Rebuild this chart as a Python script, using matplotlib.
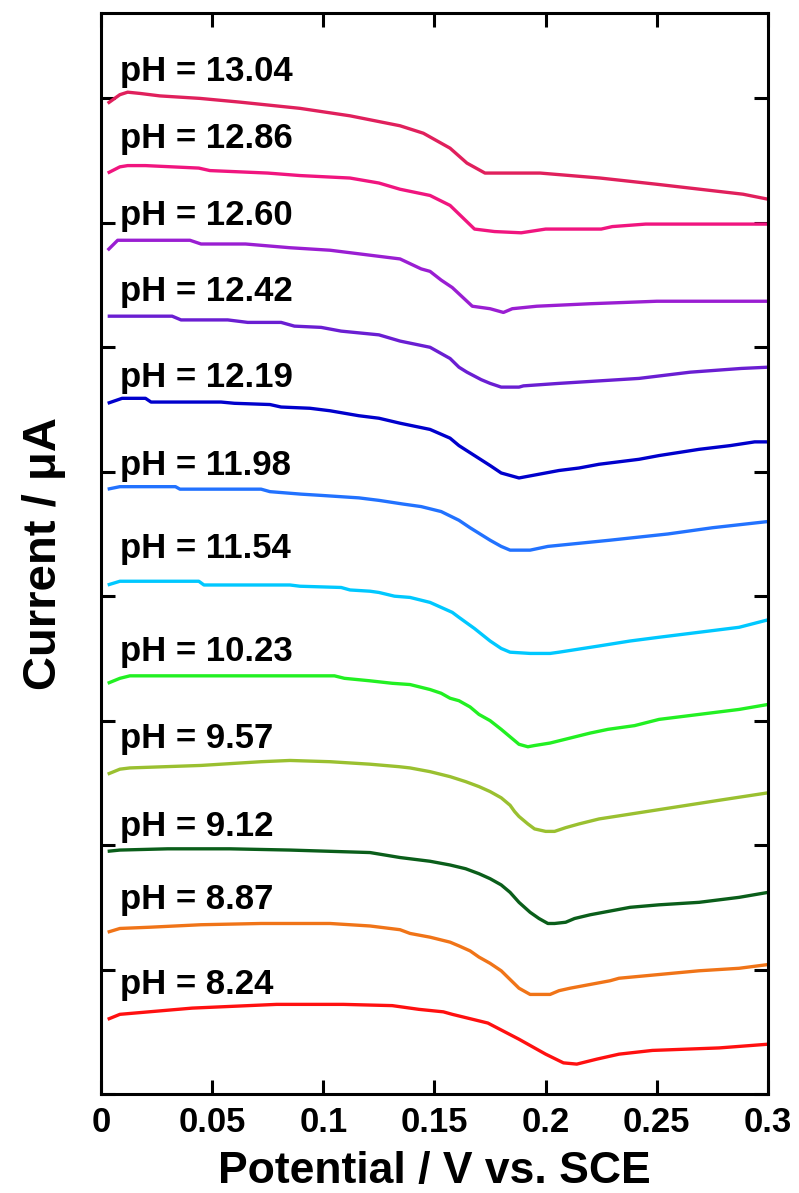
import matplotlib

matplotlib.use("Agg")
import matplotlib.pyplot as plt

plt.rcParams["font.family"] = ["Liberation Sans", "DejaVu Sans"]
plt.rcParams["font.weight"] = "bold"

# pH labels, colours, label baselines (current units, tick = 1)
ph_labels = ["13.04", "12.86", "12.60", "12.42", "12.19", "11.98",
             "11.54", "10.23", "9.57", "9.12", "8.87", "8.24"]
colors = ["#E0205C", "#F0157F", "#9A1ED2", "#6A1ED2", "#0000CC", "#2272FF",
          "#00C8FF", "#22F022", "#9AC030", "#0A5E1A", "#F07418", "#FF1010"]
label_y = [8.14, 7.60, 6.98, 6.37, 5.68, 4.97, 4.31, 3.48, 2.78, 2.07, 1.49, 0.80]

x_1304 = [0.003, 0.0085, 0.012, 0.0175, 0.0265, 0.0445, 0.0625, 0.0895, 0.112, 0.1345,
          0.145, 0.157, 0.1646, 0.1727, 0.1975, 0.2245, 0.25, 0.2694, 0.2888, 0.3]
y_1304 = [7.96, 8.03, 8.05, 8.04, 8.02, 8.00, 7.97, 7.92, 7.86, 7.78,
          7.72, 7.60, 7.48, 7.40, 7.40, 7.36, 7.31, 7.27, 7.23, 7.19]

x_1286 = [0.003, 0.0085, 0.012, 0.02, 0.044, 0.049, 0.075, 0.0895, 0.112, 0.125, 0.1345,
          0.148, 0.157, 0.168, 0.177, 0.189, 0.2, 0.225, 0.23, 0.245, 0.3]
y_1286 = [7.40, 7.45, 7.46, 7.46, 7.44, 7.42, 7.40, 7.38, 7.36, 7.32, 7.27,
          7.22, 7.14, 6.95, 6.93, 6.92, 6.95, 6.95, 6.97, 6.99, 6.99]

x_1260 = [0.003, 0.0075, 0.04, 0.045, 0.065, 0.085, 0.103, 0.1345, 0.144, 0.148, 0.153,
          0.158, 0.167, 0.175, 0.181, 0.185, 0.196, 0.22, 0.25, 0.3]
y_1260 = [6.78, 6.86, 6.86, 6.83, 6.83, 6.80, 6.78, 6.71, 6.63, 6.61, 6.54,
          6.48, 6.33, 6.31, 6.28, 6.31, 6.33, 6.35, 6.37, 6.37]

x_1242 = [0.003, 0.032, 0.036, 0.057, 0.066, 0.081, 0.087, 0.099, 0.108, 0.125, 0.1345,
          0.148, 0.157, 0.161, 0.1646, 0.171, 0.175, 0.18, 0.188, 0.19, 0.206, 0.224,
          0.242, 0.265, 0.288, 0.3]
y_1242 = [6.25, 6.25, 6.22, 6.22, 6.20, 6.20, 6.17, 6.16, 6.13, 6.10, 6.05,
          6.00, 5.91, 5.84, 5.80, 5.74, 5.71, 5.68, 5.68, 5.69, 5.71, 5.73,
          5.75, 5.80, 5.83, 5.84]

x_1219 = [0.003, 0.0095, 0.02, 0.0225, 0.054, 0.06, 0.076, 0.081, 0.094, 0.103, 0.116,
          0.125, 0.1345, 0.148, 0.157, 0.161, 0.168, 0.175, 0.18, 0.184, 0.188, 0.191,
          0.197, 0.206, 0.215, 0.224, 0.242, 0.251, 0.269, 0.283, 0.294, 0.3]
y_1219 = [5.55, 5.59, 5.59, 5.56, 5.56, 5.55, 5.54, 5.52, 5.51, 5.49, 5.45,
          5.43, 5.39, 5.34, 5.27, 5.21, 5.13, 5.05, 4.99, 4.97, 4.95, 4.96,
          4.98, 5.01, 5.03, 5.06, 5.10, 5.13, 5.18, 5.21, 5.24, 5.24]

x_1198 = [0.003, 0.0085, 0.0335, 0.0355, 0.072, 0.076, 0.090, 0.099, 0.116, 0.125, 0.136,
          0.144, 0.153, 0.161, 0.166, 0.175, 0.18, 0.184, 0.193, 0.201, 0.229, 0.255,
          0.275, 0.295, 0.3]
y_1198 = [4.86, 4.88, 4.88, 4.86, 4.86, 4.84, 4.82, 4.81, 4.79, 4.77, 4.74,
          4.72, 4.68, 4.61, 4.55, 4.45, 4.40, 4.37, 4.37, 4.40, 4.45, 4.50,
          4.55, 4.59, 4.60]

x_1154 = [0.003, 0.0085, 0.044, 0.0463, 0.085, 0.0895, 0.108, 0.112, 0.121, 0.125, 0.132,
          0.139, 0.148, 0.153, 0.158, 0.161, 0.168, 0.175, 0.18, 0.184, 0.193, 0.202,
          0.206, 0.224, 0.238, 0.251, 0.269, 0.287, 0.3]
y_1154 = [4.09, 4.12, 4.12, 4.09, 4.09, 4.08, 4.07, 4.05, 4.04, 4.03, 4.00,
          3.99, 3.95, 3.91, 3.87, 3.83, 3.74, 3.64, 3.58, 3.55, 3.54, 3.54,
          3.55, 3.60, 3.64, 3.67, 3.71, 3.75, 3.81]

x_1023 = [0.003, 0.0085, 0.013, 0.105, 0.1095, 0.121, 0.131, 0.139, 0.148, 0.153, 0.157,
          0.161, 0.166, 0.17, 0.175, 0.18, 0.184, 0.188, 0.192, 0.195, 0.202, 0.211,
          0.22, 0.228, 0.24, 0.251, 0.269, 0.287, 0.3]
y_1023 = [3.30, 3.34, 3.36, 3.36, 3.34, 3.32, 3.30, 3.29, 3.25, 3.22, 3.18,
          3.16, 3.11, 3.05, 3.00, 2.93, 2.87, 2.81, 2.79, 2.80, 2.82, 2.86,
          2.90, 2.93, 2.96, 3.01, 3.05, 3.09, 3.13]

x_957 = [0.003, 0.0085, 0.013, 0.045, 0.072, 0.085, 0.103, 0.121, 0.134, 0.139, 0.148,
         0.157, 0.164, 0.17, 0.175, 0.18, 0.184, 0.186, 0.188, 0.192, 0.195, 0.2,
         0.204, 0.209, 0.215, 0.224, 0.242, 0.26, 0.278, 0.3]
y_957 = [2.57, 2.61, 2.62, 2.64, 2.67, 2.68, 2.67, 2.65, 2.63, 2.62, 2.59,
         2.55, 2.51, 2.47, 2.43, 2.38, 2.32, 2.27, 2.23, 2.17, 2.13, 2.11,
         2.11, 2.14, 2.17, 2.21, 2.26, 2.31, 2.36, 2.42]

x_912 = [0.003, 0.0085, 0.03, 0.058, 0.085, 0.103, 0.121, 0.1345, 0.148, 0.157, 0.164,
         0.17, 0.175, 0.18, 0.184, 0.188, 0.193, 0.197, 0.201, 0.204, 0.209, 0.213,
         0.22, 0.229, 0.238, 0.251, 0.269, 0.287, 0.3]
y_912 = [1.95, 1.96, 1.97, 1.97, 1.96, 1.95, 1.94, 1.90, 1.87, 1.84, 1.81,
         1.77, 1.73, 1.68, 1.62, 1.54, 1.46, 1.41, 1.37, 1.37, 1.38, 1.41,
         1.44, 1.47, 1.50, 1.52, 1.54, 1.58, 1.62]

x_887 = [0.003, 0.0085, 0.022, 0.045, 0.072, 0.103, 0.121, 0.1345, 0.139, 0.148, 0.157,
         0.161, 0.166, 0.17, 0.175, 0.18, 0.184, 0.188, 0.193, 0.197, 0.202, 0.206,
         0.211, 0.22, 0.229, 0.233, 0.251, 0.269, 0.287, 0.3]
y_887 = [1.30, 1.33, 1.34, 1.36, 1.37, 1.37, 1.35, 1.32, 1.29, 1.26, 1.22,
         1.19, 1.15, 1.10, 1.05, 0.99, 0.92, 0.85, 0.80, 0.80, 0.80, 0.83,
         0.85, 0.88, 0.91, 0.93, 0.96, 0.99, 1.01, 1.04]

x_824 = [0.003, 0.0085, 0.041, 0.079, 0.109, 0.131, 0.143, 0.154, 0.158, 0.174, 0.188,
         0.2, 0.208, 0.214, 0.223, 0.233, 0.248, 0.278, 0.3]
y_824 = [0.60, 0.64, 0.69, 0.72, 0.72, 0.71, 0.68, 0.66, 0.64, 0.57, 0.44,
         0.32, 0.25, 0.24, 0.28, 0.32, 0.35, 0.37, 0.40]

curves = [(x_1304, y_1304), (x_1286, y_1286), (x_1260, y_1260), (x_1242, y_1242),
          (x_1219, y_1219), (x_1198, y_1198), (x_1154, y_1154), (x_1023, y_1023),
          (x_957, y_957), (x_912, y_912), (x_887, y_887), (x_824, y_824)]

fig = plt.figure(figsize=(7.99, 11.93), dpi=100)
ax = fig.add_axes([0.1264, 0.0830, 0.8348, 0.9065])

for (xs, ys), c, lab, ly in zip(curves, colors, ph_labels, label_y):
    ax.plot(xs, ys, color=c, lw=2.4, solid_joinstyle="round", solid_capstyle="butt")
    ax.text(0.0085, ly, f"pH = {lab}", fontsize=25, fontweight="bold", ha="left", va="baseline")

ax.set_xlim(0, 0.3)
ax.set_ylim(0, 8.69)
ax.set_xticks([0, 0.05, 0.1, 0.15, 0.2, 0.25, 0.3])
ax.set_xticklabels(["0", "0.05", "0.1", "0.15", "0.2", "0.25", "0.3"])
ax.set_yticks(range(0, 9))
ax.set_yticklabels([])
ax.tick_params(direction="in", top=True, right=True, length=10, width=2.2,
               labelsize=25, pad=9)
for sp in ax.spines.values():
    sp.set_linewidth(2.2)

ax.set_xlabel("Potential / V vs. SCE", fontsize=32, fontweight="bold", labelpad=8)
ax.set_ylabel("Current / \u03bcA", fontsize=34, fontweight="bold", labelpad=16)

fig.savefig("out.png", dpi=100)
